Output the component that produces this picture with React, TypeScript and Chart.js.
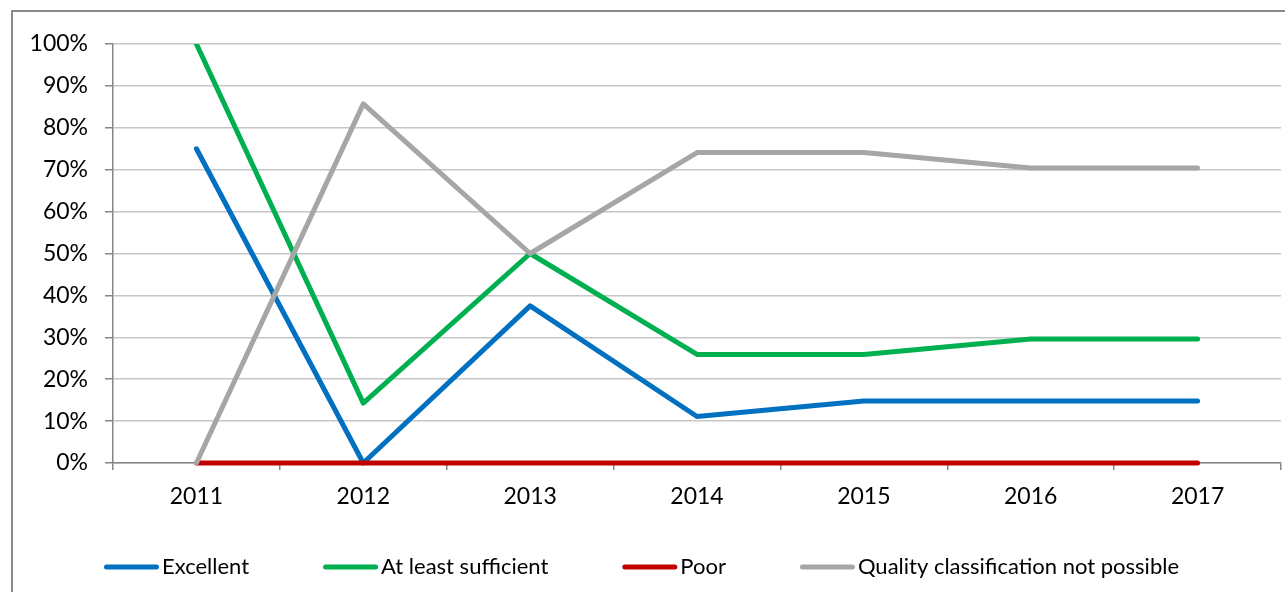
import React, { useEffect, useRef } from "react";
import { Chart, registerables } from "chart.js";

Chart.register(...registerables);

const categories = ["2011", "2012", "2013", "2014", "2015", "2016", "2017"];
const excellent = [75, 0, 37.5, 11.1, 14.8, 14.8, 14.8];
const atLeastSufficient = [100, 14.3, 50, 25.9, 25.9, 29.6, 29.6];
const poor = [0, 0, 0, 0, 0, 0, 0];
const notPossible = [0, 85.7, 50, 74.1, 74.1, 70.4, 70.4];
const seriesLabels = [
  "Excellent",
  "At least sufficient",
  "Poor",
  "Quality classification not possible",
];
const seriesColors = ["#0070C0", "#00B050", "#C00000", "#A6A6A6"];
const yMin = 0;
const yMax = 100;
const yStep = 10;

const FONT = "Lato";
const FONT_SIZE = 22;
const TICK_FONT_SIZE = 23;

const frame = {
  id: "frame",
  beforeDraw(chart: any) {
    const ctx = chart.ctx;
    ctx.save();
    ctx.fillStyle = "#ffffff";
    ctx.fillRect(0, 0, chart.width, chart.height);
    ctx.strokeStyle = "#898989";
    ctx.lineWidth = 2;
    ctx.strokeRect(12, 11, chart.width + 50, chart.height + 50);
    ctx.restore();
  },
};

const customLegend = {
  id: "customLegend",
  afterDraw(chart: any) {
    const ctx = chart.ctx;
    const lineLen = 55;
    const textGap = 3;
    const itemGap = 74;
    const y = 567;
    ctx.save();
    ctx.font = `${FONT_SIZE}px ${FONT}`;
    const items = chart.data.datasets.map((ds: any) => ({
      label: ds.label,
      color: ds.borderColor,
      w: lineLen + textGap + ctx.measureText(ds.label).width,
    }));
    const total =
      items.reduce((s: number, it: any) => s + it.w, 0) + itemGap * (items.length - 1);
    let x = 641.5 - total / 2;
    for (const it of items) {
      ctx.strokeStyle = it.color;
      ctx.lineWidth = 5;
      ctx.lineCap = "round";
      ctx.beginPath();
      ctx.moveTo(x + 2.5, y);
      ctx.lineTo(x + lineLen - 2.5, y);
      ctx.stroke();
      ctx.fillStyle = "#000";
      ctx.textBaseline = "middle";
      ctx.textAlign = "left";
      ctx.fillText(it.label, x + lineLen + textGap, y);
      x += it.w + itemGap;
    }
    ctx.restore();
  },
};

export default function App() {
  const ref = useRef<HTMLCanvasElement | null>(null);
  useEffect(() => {
    document.body.style.margin = "0";
    const canvas = ref.current;
    if (!canvas) return;
    const series = [excellent, atLeastSufficient, poor, notPossible];
    const chart = new Chart(canvas, {
      type: "line",
      data: {
        labels: categories,
        datasets: series.map((d, i) => ({
          label: seriesLabels[i],
          data: d,
          borderColor: seriesColors[i],
          backgroundColor: seriesColors[i],
          borderWidth: 5,
          borderCapStyle: "round",
          borderJoinStyle: "round",
          pointRadius: 0,
          pointHoverRadius: 0,
          tension: 0,
          fill: false,
          order: 4 - i,
          clip: { left: 6, top: 0, right: 6, bottom: 6 },
        })),
      },
      options: {
        animation: false,
        responsive: false,
        maintainAspectRatio: false,
        events: [],
        layout: { padding: { left: 0, top: 44, right: 4, bottom: 69 } },
        font: { family: FONT, size: FONT_SIZE },
        plugins: {
          legend: { display: false },
          tooltip: { enabled: false },
          title: { display: false },
        },
        scales: {
          x: {
            type: "category",
            offset: true,
            afterFit: (s: any) => {
              s.height = 60;
            },
            grid: {
              offset: true,
              drawOnChartArea: false,
              tickLength: 7,
              tickColor: "#868686",
              lineWidth: 1.5,
            },
            border: { color: "#868686", width: 1.5 },
            ticks: {
              color: "#000",
              font: { family: FONT, size: TICK_FONT_SIZE },
              padding: 13,
              maxRotation: 0,
            },
          },
          y: {
            min: yMin,
            max: yMax,
            afterFit: (s: any) => {
              s.width = 113;
            },
            grid: {
              color: "#C6C6C6",
              lineWidth: 1.5,
              tickLength: 8,
              tickColor: "#868686",
            },
            border: { color: "#868686", width: 1.5 },
            ticks: {
              stepSize: yStep,
              color: "#000",
              font: { family: FONT, size: TICK_FONT_SIZE },
              padding: 17,
              callback: (v: any) => `${v}%`,
            },
          },
        },
      },
      plugins: [frame, customLegend],
    });
    return () => chart.destroy();
  }, []);
  return (
    <div style={{ width: 1285, height: 592 }}>
      <canvas ref={ref} width={1285} height={592} style={{ display: "block" }} />
    </div>
  );
}
